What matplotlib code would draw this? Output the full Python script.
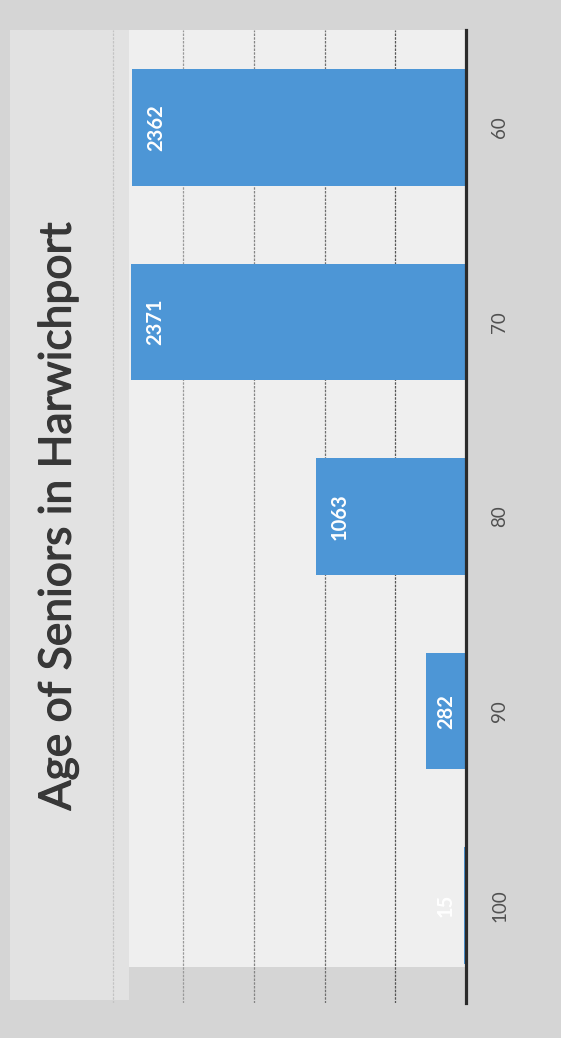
import matplotlib
matplotlib.use("Agg")
import matplotlib.pyplot as plt
from matplotlib.patches import Rectangle
import matplotlib.patheffects as pe

# ---- data ----
title = "Age of Seniors in Harwichport"
categories = ["60", "70", "80", "90", "100"]
values = [2362, 2371, 1063, 282, 15]
grid_ticks = [500, 1000, 1500, 2000, 2500]
grid_colors = ["#555555", "#6e6e6e", "#858585", "#9a9a9a", "#c4c4c4"]

W, H = 561, 1038
DPI = 100
fig = plt.figure(figsize=(W / DPI, H / DPI), dpi=DPI)
fig.patch.set_facecolor("#d5d5d5")

def px_box(x0, y0, x1, y1):
    """pixel box (top-left origin) -> figure fraction [l, b, w, h]"""
    return [x0 / W, 1 - y1 / H, (x1 - x0) / W, (y1 - y0) / H]

# background panel axes (drawn first, below everything)
bg = fig.add_axes([0, 0, 1, 1], zorder=-5)
bg.set_xlim(0, W)
bg.set_ylim(H, 0)
bg.axis("off")
bg.add_patch(Rectangle((10, 30), 119, 970, facecolor="#e2e2e2", edgecolor="none"))
bg.add_patch(Rectangle((129, 30), 337, 937, facecolor="#efefef", edgecolor="none"))

ax_x0, ax_x1 = 100, 466
ax = fig.add_axes(px_box(ax_x0, 30, ax_x1, 1003))
ax.set_facecolor("none")

scale = 0.1413  # px per unit
xmax = (ax_x1 - ax_x0) / scale
ax.set_xlim(xmax, 0)
ax.set_ylim(len(categories) - 0.5, -0.5)

ypos = list(range(len(categories)))
ax.barh(ypos, values, height=0.6, color="#4d96d6", zorder=2)

for gx, gc in zip(grid_ticks, grid_colors):
    ax.axvline(gx, color=gc, linestyle=(0, (2, 1)), linewidth=0.9, zorder=1)

for s in ["left", "top", "bottom"]:
    ax.spines[s].set_visible(False)
ax.spines["right"].set_color("#2b2b2b")
ax.spines["right"].set_linewidth(2.3)
ax.spines["right"].set_zorder(3)

ax.set_xticks([])
ax.yaxis.tick_right()
ax.set_yticks(ypos)
ax.set_yticklabels(categories, rotation=90, va="center", ha="left",
                   fontsize=13.5, color="#505050", family="Lato")
ax.tick_params(axis="y", length=0, pad=18)

# data labels (inside end, clamped near base for small bars)
inset = 24 / scale
min_from_base = 20 / scale
for yv, v in zip(ypos, values):
    lx = max(v - inset, min_from_base)
    ax.text(lx, yv, str(v), rotation=90, ha="center", va="center",
            color="white", fontsize=14.5, fontweight="bold", family="Lato",
            zorder=4)

fig.text(58 / W, 1 - 516 / H, title, rotation=90, ha="center", va="center",
         fontsize=32, color="#383838", family="Lato",
         path_effects=[pe.withStroke(linewidth=0.9, foreground="#383838")])

fig.savefig("out.png", dpi=DPI, facecolor=fig.get_facecolor())
